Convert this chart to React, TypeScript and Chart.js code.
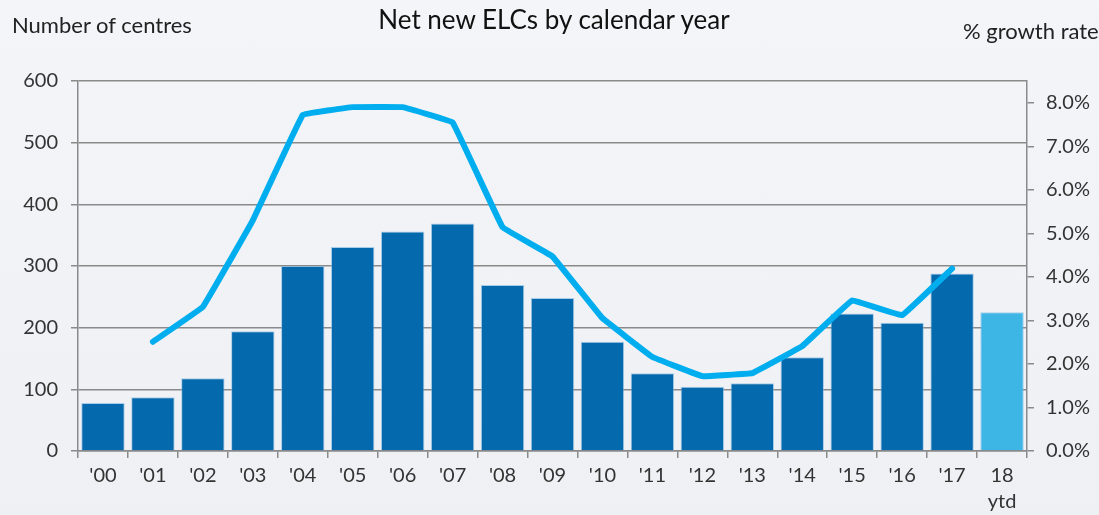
import React, { useEffect, useRef } from "react";
import { Chart, registerables } from "chart.js";

Chart.register(...registerables);

const categories: (string | string[])[] = [
  "'00", "'01", "'02", "'03", "'04", "'05", "'06", "'07", "'08", "'09",
  "'10", "'11", "'12", "'13", "'14", "'15", "'16", "'17", ["18", "ytd"],
];

const centres = [78, 87, 118, 194, 300, 331, 356, 369, 269, 248, 177, 126, 104, 110, 152, 223, 208, 288, 225];

const growthRate = [null, 2.51, 3.31, 5.3, 7.72, 7.9, 7.9, 7.55, 5.14, 4.47, 3.05, 2.16, 1.72, 1.79, 2.41, 3.46, 3.12, 4.19, null];

const leftTicks = [0, 100, 200, 300, 400, 500, 600];
const rightTicks = [0, 1, 2, 3, 4, 5, 6, 7, 8];

const titleText = "Net new ELCs by calendar year";
const leftAxisTitle = "Number of centres";
const rightAxisTitle = "% growth rate";

const FONT = "Lato, 'Open Sans', sans-serif";
const GRID = "#8a8a8a";
const TEXT = "#333333";

export default function App() {
  const canvasRef = useRef<HTMLCanvasElement | null>(null);

  useEffect(() => {
    document.body.style.margin = "0";
    const ctx = canvasRef.current!.getContext("2d")!;
    const barColors = centres.map((_, i) => (i === centres.length - 1 ? "#3eb6e5" : "#0569ae"));
    const chart = new Chart(ctx, {
      type: "bar",
      data: {
        labels: categories as any,
        datasets: [
          {
            type: "line",
            label: "% growth rate",
            data: growthRate as any,
            yAxisID: "y1",
            borderColor: "#00aeef",
            borderWidth: 6,
            pointRadius: 0,
            tension: 0.04,
            borderCapStyle: "round",
            borderJoinStyle: "round",
            spanGaps: false,
            order: 0,
          } as any,
          {
            type: "bar",
            label: "Number of centres",
            data: centres,
            yAxisID: "y",
            backgroundColor: barColors,
            borderColor: "rgba(120,180,225,0.6)",
            borderWidth: 1,
            categoryPercentage: 1,
            barPercentage: 0.87,
            order: 1,
          } as any,
        ],
      },
      options: {
        animation: false,
        responsive: true,
        maintainAspectRatio: false,
        layout: { padding: { top: 81, left: 0, right: 0, bottom: 0 } },
        plugins: { legend: { display: false }, tooltip: { enabled: false }, title: { display: false } },
        scales: {
          x: {
            afterFit: (s: any) => { s.height = 64; },
            grid: { drawOnChartArea: false, offset: true, tickLength: 7, color: GRID, lineWidth: 1.5 },
            border: { display: true, color: GRID, width: 1.5 },
            ticks: { color: TEXT, font: { family: FONT, size: 20, lineHeight: 1.3 }, padding: 5, maxRotation: 0, autoSkip: false },
          },
          y: {
            position: "left",
            min: 0,
            max: 600,
            afterFit: (s: any) => { s.width = 78; },
            afterBuildTicks: (s: any) => { s.ticks = leftTicks.map((v) => ({ value: v })); },
            grid: { color: GRID, lineWidth: 1.5, tickLength: 7 },
            border: { display: true, color: GRID, width: 1.5 },
            ticks: { color: TEXT, font: { family: FONT, size: 20 }, padding: 13 },
          },
          y1: {
            position: "right",
            min: 0,
            max: 8.5,
            afterFit: (s: any) => { s.width = 72; },
            afterBuildTicks: (s: any) => { s.ticks = rightTicks.map((v) => ({ value: v })); },
            grid: { drawOnChartArea: false, color: GRID, lineWidth: 1.5, tickLength: 7 },
            border: { display: true, color: GRID, width: 1.5 },
            ticks: {
              color: TEXT,
              font: { family: FONT, size: 20 },
              padding: 12,
              callback: (v: any) => Number(v).toFixed(1) + "%",
            },
          },
        },
      },
    });
    return () => chart.destroy();
  }, []);

  return (
    <div
      style={{
        position: "fixed",
        left: 0,
        top: 0,
        width: 1099,
        height: 515,
        overflow: "hidden",
        background: "linear-gradient(180deg, #f4f5f8 0%, #eef0f3 100%)",
        fontFamily: FONT,
      }}
    >
      <div style={{ position: "absolute", left: 0, top: 0, width: 1099, height: 515 }}>
        <canvas ref={canvasRef} />
      </div>
      <div style={{ position: "absolute", left: 12, top: 11, fontSize: 22, color: "#222", whiteSpace: "nowrap" }}>
        {leftAxisTitle}
      </div>
      <div
        style={{
          position: "absolute",
          left: 0,
          width: 1108,
          top: 3,
          textAlign: "center",
          fontSize: 26,
          color: "#111",
          whiteSpace: "nowrap",
        }}
      >
        {titleText}
      </div>
      <div style={{ position: "absolute", left: 963, top: 17, fontSize: 22, color: "#222", whiteSpace: "nowrap" }}>
        {rightAxisTitle}
      </div>
    </div>
  );
}
